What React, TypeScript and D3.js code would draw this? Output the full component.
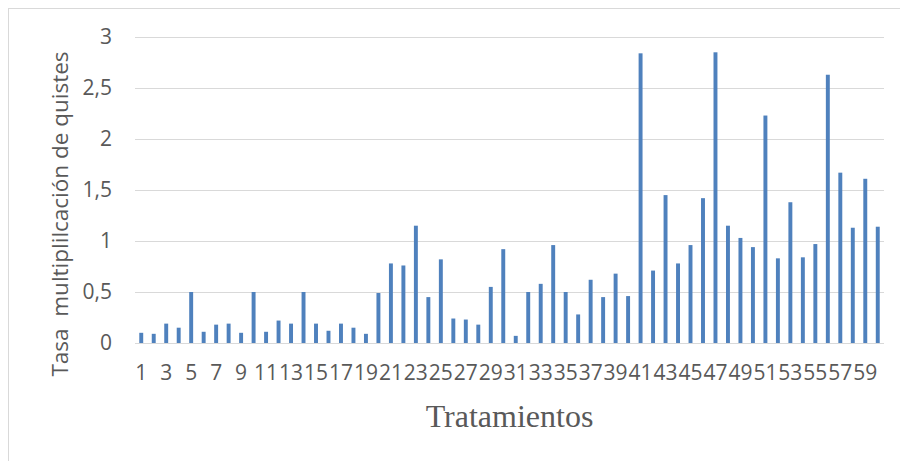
import * as d3 from 'd3';

// Datos (Tasa de multiplicación de quistes por tratamiento)
const tratamientos: string[] = Array.from({ length: 60 }, (_, i) => String(i + 1));

const tasa: number[] = [
    0.1, 0.09, 0.19, 0.15, 0.5, 0.11, 0.18, 0.19, 0.1, 0.5,
    0.11, 0.22, 0.19, 0.5, 0.19, 0.12, 0.19, 0.15, 0.09, 0.49,
    0.78, 0.76, 1.15, 0.45, 0.82, 0.24, 0.23, 0.18, 0.55, 0.92,
    0.07, 0.5, 0.58, 0.96, 0.5, 0.28, 0.62, 0.45, 0.68, 0.46,
    2.84, 0.71, 1.45, 0.78, 0.96, 1.42, 2.85, 1.15, 1.03, 0.94,
    2.23, 0.83, 1.38, 0.84, 0.97, 2.63, 1.67, 1.13, 1.61, 1.14,
];

const yTicks: number[] = [0, 0.5, 1, 1.5, 2, 2.5, 3];

const yTitle = 'Tasa  multiplilcación de quistes';
const xTitle = 'Tratamientos';

export default function App() {
    const width = 900;
    const height = 453;
    const margin = { top: 29, right: 24, bottom: 118, left: 127 };

    const x = d3
        .scaleBand()
        .domain(tratamientos)
        .range([margin.left, width - margin.right])
        .paddingInner(0.685)
        .paddingOuter(0.3425);

    const y = d3
        .scaleLinear()
        .domain([0, 3])
        .range([height - margin.bottom, margin.top]);

    const fmt = (v: number) => String(v).replace('.', ',');
    const textColor = '#595959';
    const sans = '"Open Sans", sans-serif';

    return (
        <svg width={width} height={height} style={{ display: 'block' }}>
            <rect x={0.5} y={0.5} width={width + 20} height={height + 20} fill="#fff" stroke="#d9d9d9" />

            {/* líneas de cuadrícula */}
            <g>
                {yTicks.map((t) => (
                    <line
                        key={t}
                        x1={margin.left}
                        x2={width - margin.right}
                        y1={Math.round(y(t)) + 0.5}
                        y2={Math.round(y(t)) + 0.5}
                        stroke="#d9d9d9"
                        strokeWidth={1.2}
                    />
                ))}
            </g>

            {/* barras */}
            <g>
                {tasa.map((v, i) => (
                    <rect
                        key={i}
                        x={x(tratamientos[i])!}
                        y={y(v)}
                        width={x.bandwidth()}
                        height={y(0) - y(v)}
                        fill="#4f81bd"
                    />
                ))}
            </g>

            {/* etiquetas eje y */}
            <g fontFamily={sans} fontSize={21} fill={textColor} textAnchor="end">
                {yTicks.map((t) => (
                    <text key={t} x={104} y={y(t)} dy="0.35em">
                        {fmt(t)}
                    </text>
                ))}
            </g>

            {/* etiquetas eje x (una de cada dos) */}
            <g fontFamily={sans} fontSize={21} fill={textColor} textAnchor="middle">
                {tratamientos
                    .filter((_, i) => i % 2 === 0)
                    .map((c) => (
                        <text key={c} x={x(c)! + x.bandwidth() / 2} y={372}>
                            {c}
                        </text>
                    ))}
            </g>

            <text
                transform={`translate(60,206) rotate(-90)`}
                textAnchor="middle"
                fontFamily={sans}
                fontSize={22.5}
                fill={textColor}
                style={{ whiteSpace: 'pre' }}
            >
                {yTitle}
            </text>

            <text
                x={(margin.left + width - margin.right) / 2}
                y={419}
                textAnchor="middle"
                fontFamily='"Liberation Serif", "Times New Roman", serif'
                fontSize={32}
                fill={textColor}
            >
                {xTitle}
            </text>
        </svg>
    );
}
